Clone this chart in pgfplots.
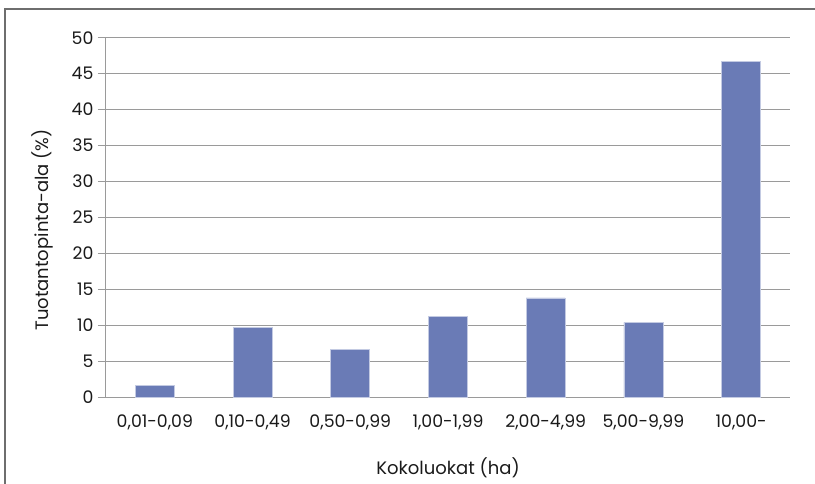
\documentclass[border=0pt]{standalone}
\usepackage{pgfplots}
\pgfplotsset{compat=1.18}
\usepackage{fontspec}
\setmainfont{Poppins}
\definecolor{barblue}{HTML}{6A7BB6}
\definecolor{gridgray}{HTML}{9A9A9A}
\definecolor{framegray}{HTML}{6E6E6E}
\definecolor{txt}{HTML}{1A1A1A}
\begin{document}
\begin{tikzpicture}[x=1pt,y=1pt]
\begin{axis}[
  at={(0,0)}, anchor=south west,
  scale only axis,
  width=684pt, height=359.3pt,
  xmin=-0.5, xmax=6.5,
  ymin=0, ymax=50,
  ytick={0,5,...,50},
  xtick={0,...,6},
  xticklabels={{0,01-0,09},{0,10-0,49},{0,50-0,99},{1,00-1,99},{2,00-4,99},{5,00-9,99},{10,00-}},
  axis x line*=bottom,
  axis y line*=left,
  axis line style={gridgray, line width=1pt},
  ymajorgrids,
  grid style={gridgray, line width=1pt},
  major tick length=8pt,
  ytick style={gridgray, line width=1pt},
  xtick style={draw=none},
  tick align=outside,
  /pgf/number format/assume math mode=true,
  ticklabel style={font=\fontsize{17.3}{20}\selectfont, text=txt},
  yticklabel style={xshift=-1pt},
  xticklabel style={yshift=-6pt},
  ylabel={Tuotantopinta-ala (\%)},
  xlabel={Kokoluokat (ha)},
  label style={font=\fontsize{18}{21}\selectfont, text=txt},
  ylabel style={at={(axis description cs:-0.0936,0.465)}, anchor=center},
  xlabel style={at={(axis description cs:0.5,-0.196)}, anchor=center},
  clip=false,
]
\addplot[ybar, bar width=39pt, fill=barblue, draw=barblue!40!white, line width=0.6pt]
  coordinates {(0,1.6) (1,9.7) (2,6.6) (3,11.2) (4,13.8) (5,10.4) (6,46.7)};
\end{axis}
% outer frame (top and left edges)
\draw[framegray, line width=1.2pt] (-101,-90) -- (-101,388) -- (712,388);
\pgfresetboundingbox
\useasboundingbox (-106,-86) rectangle (709,397);
\end{tikzpicture}
\end{document}
